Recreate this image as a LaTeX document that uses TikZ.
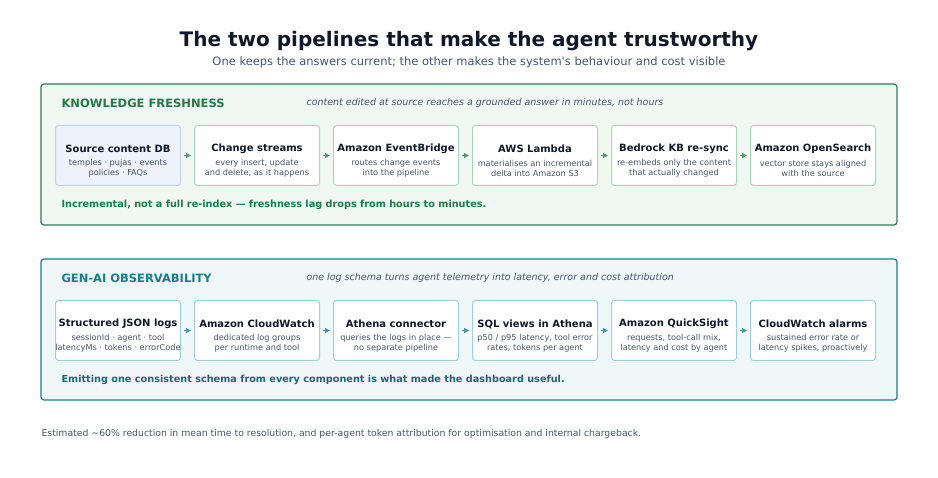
\documentclass[tikz,border=0pt]{standalone}
\usepackage{fontspec}
\setmainfont{DejaVu Sans}
\usetikzlibrary{arrows.meta}
\definecolor{ink}{HTML}{111827}
\definecolor{sub}{HTML}{475569}
\definecolor{gB}{HTML}{2E7D52}\definecolor{gF}{HTML}{F1F8F4}\definecolor{gb}{HTML}{A8D5B9}\definecolor{gH}{HTML}{1F7A45}
\definecolor{tB}{HTML}{1A7F8A}\definecolor{tF}{HTML}{F0F7F9}\definecolor{tb}{HTML}{9FD0D8}\definecolor{tH}{HTML}{13808A}\definecolor{tN}{HTML}{136B73}
\definecolor{sF}{HTML}{EEF3FB}\definecolor{sb}{HTML}{C5D3EA}
\begin{document}
\begin{tikzpicture}[x=1pt,y=-1pt,
 panel/.style={rounded corners=3pt,line width=1.2pt},
 box/.style={draw,rounded corners=3pt,line width=1pt,fill=white,minimum width=125pt,minimum height=60pt,anchor=north west},
 bt/.style={font=\bfseries\fontsize{10}{12}\selectfont,text=ink},
 bs/.style={font=\fontsize{8.2}{10}\selectfont,text=sub,align=center},
 arr/.style={-{Triangle[length=5pt,width=5pt]},line width=1.2pt}]
\useasboundingbox[fill=white] (0,0) rectangle (938,478);
\node[font=\bfseries\fontsize{20}{24}\selectfont,text=ink] (title) at (469,41) {The two pipelines that make the agent trustworthy};
\node[font=\fontsize{11.5}{14}\selectfont,text=sub] (subt) at (469,62) {One keeps the answers current; the other makes the system\textquotesingle s behaviour and cost visible};
\draw[panel,draw=gB,fill=gF] (41,84) rectangle (897,225);
\draw[panel,draw=tB,fill=tF] (41,259) rectangle (897,400);
\node[anchor=west,font=\bfseries\fontsize{11.5}{14}\selectfont,text=gH] (h1) at (58,103) {KNOWLEDGE FRESHNESS};
\node[anchor=west,font=\itshape\fontsize{9.5}{12}\selectfont,text=sub] (s1) at (303,103) {content edited at source reaches a grounded answer in minutes, not hours};
\node[anchor=west,font=\bfseries\fontsize{9.7}{12}\selectfont,text=gH] (n1) at (58,205) {Incremental, not a full re-index — freshness lag drops from hours to minutes.};
\node[anchor=west,font=\bfseries\fontsize{11.5}{14}\selectfont,text=tH] (h2) at (58,278) {GEN-AI OBSERVABILITY};
\node[anchor=west,font=\itshape\fontsize{9.5}{12}\selectfont,text=sub] (s2) at (303,278) {one log schema turns agent telemetry into latency, error and cost attribution};
\node[anchor=west,font=\bfseries\fontsize{9.7}{12}\selectfont,text=tN] (n2) at (58,380) {Emitting one consistent schema from every component is what made the dashboard useful.};
\node[anchor=west,font=\fontsize{9.3}{11}\selectfont,text=sub] (foot) at (38,434) {Estimated \textasciitilde60\% reduction in mean time to resolution, and per-agent token attribution for optimisation and internal chargeback.};
\def\mk#1#2#3#4#5#6#7{%
 \node[box,draw=#4,fill=#5] (#1) at (#2,#3) {};
 \node[bt] at ([yshift=-24pt]#1.north) {#6};
 \node[bs] at ([yshift=-43pt]#1.north) {#7};}
\mk{a1}{55}{125}{sb}{sF}{Source content DB}{temples · pujas · events\\policies · FAQs}
\mk{a2}{194}{125}{gb}{white}{Change streams}{every insert, update\\and delete, as it happens}
\mk{a3}{333}{125}{gb}{white}{Amazon EventBridge}{routes change events\\into the pipeline}
\mk{a4}{472}{125}{gb}{white}{AWS Lambda}{materialises an incremental\\delta into Amazon S3}
\mk{a5}{611}{125}{gb}{white}{Bedrock KB re-sync}{re-embeds only the content\\that actually changed}
\mk{a6}{750}{125}{gb}{white}{Amazon OpenSearch}{vector store stays aligned\\with the source}
\mk{b1}{55}{300}{tb}{white}{Structured JSON logs}{sessionId · agent · tool\\latencyMs · tokens · errorCode}
\mk{b2}{194}{300}{tb}{white}{Amazon CloudWatch}{dedicated log groups\\per runtime and tool}
\mk{b3}{333}{300}{tb}{white}{Athena connector}{queries the logs in place —\\no separate pipeline}
\mk{b4}{472}{300}{tb}{white}{SQL views in Athena}{p50 / p95 latency, tool error\\rates, tokens per agent}
\mk{b5}{611}{300}{tb}{white}{Amazon QuickSight}{requests, tool-call mix,\\latency and cost by agent}
\mk{b6}{750}{300}{tb}{white}{CloudWatch alarms}{sustained error rate or\\latency spikes, proactively}
\foreach \i/\j in {1/2,2/3,3/4,4/5,5/6}{
 \draw[arr,draw=gB!80,fill=gB!80,shorten <=3pt,shorten >=3pt] (a\i.east) -- (a\j.west);
 \draw[arr,draw=tH!80,fill=tH!80,shorten <=3pt,shorten >=3pt] (b\i.east) -- (b\j.west);}
\end{tikzpicture}
\end{document}
